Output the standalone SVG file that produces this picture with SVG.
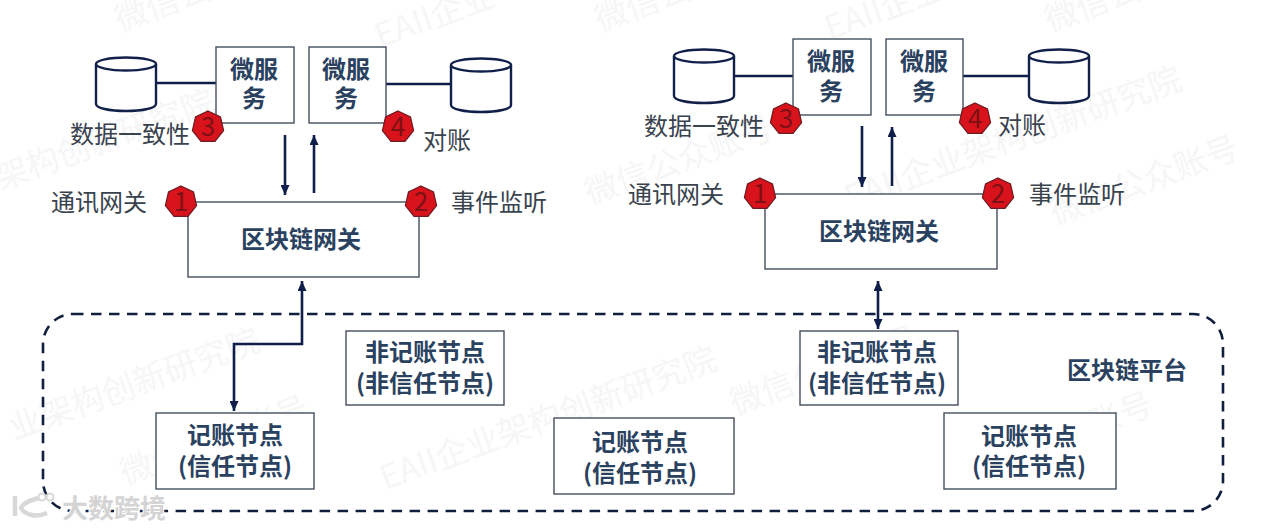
<svg xmlns="http://www.w3.org/2000/svg" width="1280" height="531" viewBox="0 0 1280 531">
<defs>
<marker id="ah" markerUnits="userSpaceOnUse" markerWidth="10" markerHeight="9" refX="10" refY="4.5" orient="auto-start-reverse"><path d="M0 0L10 4.5L0 9Z" fill="#0f1e4a"/></marker>
<polygon id="hept" points="0,-16 12.5,-10 15.6,3.6 7,14.4 -7,14.4 -15.6,3.6 -12.5,-10"/>
<g id="db"><path d="M-30 -21V19C-30 23 -17 26 0 26S30 23 30 19V-21" fill="#fff" stroke="#10204a" stroke-width="2.4"/><ellipse cx="0" cy="-21" rx="30" ry="6.5" fill="#fff" stroke="#10204a" stroke-width="2.4"/></g>
</defs>
<style>
text{font-family:"Noto Sans CJK SC","Liberation Sans",sans-serif}
.box{fill:#fff;stroke:#44505f;stroke-width:1.4}
.b{font-weight:700;font-size:24px;fill:#2a4260;text-anchor:middle}
.l{font-size:24px;fill:#39434e}
.n{font-size:26px;fill:#7e1016;text-anchor:middle}
.hx{fill:#d8131c;stroke:#6d1a20;stroke-width:1.2}
.c{fill:none;stroke:#0f1e4a;stroke-width:2.6}
.wm{font-size:33px;fill:#f6f6f7}
</style>
<rect width="1280" height="531" fill="#fff"/>
<g id="watermarks">
<text class="wm" transform="translate(14 440) rotate(-20)">业架构创新研究院</text>
<text class="wm" transform="translate(0 190) rotate(-20)">架构创新研究院</text>
<text class="wm" transform="translate(590 205) rotate(-20)">微信公众账号</text>
<text class="wm" transform="translate(385 490) rotate(-20)">EAII企业架构创新研究院</text>
<text class="wm" transform="translate(850 210) rotate(-20)">EAII企业架构创新研究院</text>
<text class="wm" transform="translate(1055 225) rotate(-20)">微信公众账号</text>
<text class="wm" transform="translate(125 485) rotate(-20)">微信公众账号</text>
<text class="wm" transform="translate(735 415) rotate(-20)">微信公众账号</text>
<text class="wm" transform="translate(1000 470) rotate(-20)">信公众账号</text>
<text class="wm" transform="translate(120 32) rotate(-20)">微信公众</text>
<text class="wm" transform="translate(380 48) rotate(-20)">EAII企业</text>
<text class="wm" transform="translate(600 32) rotate(-20)">微信公众</text>
<text class="wm" transform="translate(830 40) rotate(-20)">EAII企业</text>
<text class="wm" transform="translate(1050 32) rotate(-20)">微信公众</text>
</g>
<g id="platform"><rect x="43" y="314" width="1180" height="197" rx="30" fill="none" stroke="#111f3f" stroke-width="2.6" stroke-dasharray="10.5 7.5"/><text x="1127" y="379" text-anchor="middle" font-weight="700" font-size="24" fill="#2a4260">区块链平台</text></g>
<g id="connectors">
<path class="c" d="M156 83H216"/>
<path class="c" d="M386 84H451"/>
<path class="c" d="M734 76H793"/>
<path class="c" d="M963 76H1028"/>
<path class="c" d="M285 135V195" marker-end="url(#ah)"/>
<path class="c" d="M314 193V135" marker-end="url(#ah)"/>
<path class="c" d="M862 126V187" marker-end="url(#ah)"/>
<path class="c" d="M892 186V127" marker-end="url(#ah)"/>
<path class="c" d="M302 281V344H234V411" marker-start="url(#ah)" marker-end="url(#ah)"/>
<path class="c" d="M878 281V329" marker-start="url(#ah)" marker-end="url(#ah)"/>
</g>
<g id="db1"><use href="#db" x="126" y="85"/></g>
<g id="db2"><use href="#db" x="481" y="86"/></g>
<g id="db3"><use href="#db" x="704" y="77"/></g>
<g id="db4"><use href="#db" x="1059" y="77"/></g>
<g id="ms1"><rect class="box" x="216" y="47" width="78" height="76"/><text class="b" x="254" y="78">微服</text><text class="b" x="254" y="107">务</text></g>
<g id="ms2"><rect class="box" x="309" y="47" width="77" height="76"/><text class="b" x="346" y="78">微服</text><text class="b" x="346" y="107">务</text></g>
<g id="ms3"><rect class="box" x="793" y="39" width="78" height="76"/><text class="b" x="831" y="70">微服</text><text class="b" x="831" y="100">务</text></g>
<g id="ms4"><rect class="box" x="886" y="39" width="77" height="76"/><text class="b" x="924" y="70">微服</text><text class="b" x="924" y="100">务</text></g>
<g id="gw1"><rect class="box" x="188" y="202" width="231" height="75"/><text class="b" x="301" y="248">区块链网关</text></g>
<g id="gw2"><rect class="box" x="765" y="194" width="232" height="75"/><text class="b" x="879" y="240">区块链网关</text></g>
<g id="n1"><rect class="box" x="346" y="331" width="158" height="74"/><text class="b" x="425" y="361">非记账节点</text><text class="b" x="425" y="392">(非信任节点)</text></g>
<g id="n2"><rect class="box" x="156" y="413" width="158" height="76"/><text class="b" x="235" y="444">记账节点</text><text class="b" x="235" y="475">(信任节点)</text></g>
<g id="n3"><rect class="box" x="800" y="331" width="158" height="74"/><text class="b" x="877" y="361">非记账节点</text><text class="b" x="877" y="392">(非信任节点)</text></g>
<g id="n4"><rect class="box" x="554" y="418" width="180" height="76"/><text class="b" x="640" y="451">记账节点</text><text class="b" x="640" y="482">(信任节点)</text></g>
<g id="n5"><rect class="box" x="944" y="413" width="172" height="76"/><text class="b" x="1029" y="445">记账节点</text><text class="b" x="1029" y="475">(信任节点)</text></g>
<g id="b1"><use class="hx" href="#hept" x="181" y="202"/><text class="n" x="181" y="211">1</text></g>
<g id="b2"><use class="hx" href="#hept" x="421" y="202"/><text class="n" x="421" y="211">2</text></g>
<g id="b3"><use class="hx" href="#hept" x="208" y="127"/><text class="n" x="208" y="136">3</text></g>
<g id="b4"><use class="hx" href="#hept" x="398" y="127"/><text class="n" x="398" y="136">4</text></g>
<g id="b5"><use class="hx" href="#hept" x="760" y="194"/><text class="n" x="760" y="203">1</text></g>
<g id="b6"><use class="hx" href="#hept" x="998" y="194"/><text class="n" x="998" y="203">2</text></g>
<g id="b7"><use class="hx" href="#hept" x="786" y="119"/><text class="n" x="786" y="128">3</text></g>
<g id="b8"><use class="hx" href="#hept" x="975" y="119"/><text class="n" x="975" y="128">4</text></g>
<g id="labels">
<text class="l" x="70" y="143">数据一致性</text><text class="l" x="423" y="149">对账</text><text class="l" x="51" y="211">通讯网关</text><text class="l" x="451" y="211">事件监听</text>
<text class="l" x="644" y="135">数据一致性</text><text class="l" x="998" y="134">对账</text><text class="l" x="628" y="203">通讯网关</text><text class="l" x="1029" y="203">事件监听</text>
</g>
<g id="logo">
<text x="62" y="518" font-size="26" font-weight="700" fill="#d4d4d4" stroke="#fff" stroke-width="2" paint-order="stroke">大数跨境</text>
<path d="M15 496V516M40 498C28 500 22 505 21 508C25 515 36 518 47 513" fill="none" stroke="#d8d8d8" stroke-width="4.5"/>
<circle cx="42" cy="497" r="3.5" fill="#fff" stroke="#d8d8d8" stroke-width="2"/><circle cx="50" cy="497" r="3.5" fill="#fff" stroke="#d8d8d8" stroke-width="2"/>
</g>
</svg>
